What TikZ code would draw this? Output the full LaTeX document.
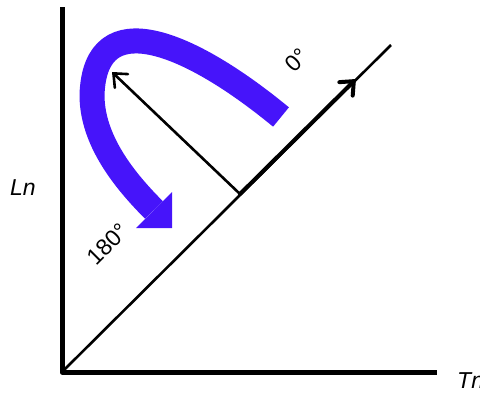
\documentclass[tikz,border=0pt]{standalone}
\usepackage{fontspec}
\setmainfont{Liberation Sans}
\usetikzlibrary{arrows.meta}

\definecolor{turnblue}{RGB}{70,20,250}

\begin{document}
\begin{tikzpicture}[
    x=1pt, y=-1pt,
    line join=round,
    font=\fontsize{23}{26}\selectfont,
    axis/.style={line width=5pt},
    ray/.style={line width=2.6pt},
    vec/.style={line width=2.6pt, line cap=round,
        -{Straight Barb[length=11pt,width=19pt,line cap=round]}},
    turn/.style={line width=25pt, draw=turnblue},
    tag/.style={inner sep=0pt}
]
\useasboundingbox (0,0) rectangle (480,394);

% =========================
% Points
% =========================
\coordinate (origin) at (62,372);
\coordinate (ytop) at (62,7);
\coordinate (xend) at (437,372);
\coordinate (diagend) at (391,45);
\coordinate (foot) at (240,194);
\coordinate (zerotip) at (356,79);
\coordinate (normtip) at (112,72);

% =========================
% Axes
% =========================
\draw[axis] (ytop) -- (origin.center) -- (xend);
\draw[ray] (origin) -- (diagend);

% =========================
% Vectors
% =========================
\draw[vec, line width=4pt] (foot) -- (zerotip);
\draw[vec] (foot) -- (normtip);

% =========================
% Rotation arrow
% =========================
\coordinate (turnstart) at (281,117);
\coordinate (turnleft) at (92,95);
\coordinate (turnbase) at (154,210);
\draw[turn] (turnstart) .. controls (190,42) and (95,2) .. (turnleft)
    .. controls (92,140) and (124,180) .. (turnbase);
\fill[turnblue] (136,228) -- (172,192) -- (172,228) -- cycle;

% =========================
% Labels
% =========================
\node[tag, font=\fontsize{23}{26}\selectfont\itshape] (ln) at (23,188) {Ln};
\node[tag, font=\fontsize{23}{26}\selectfont\itshape, anchor=west] (tn) at (457,381) {Tn};
\node[tag, rotate=45] (zero) at (297,60) {0°};
\node[tag, rotate=45] (half) at (108,244) {180°};

\end{tikzpicture}
\end{document}
